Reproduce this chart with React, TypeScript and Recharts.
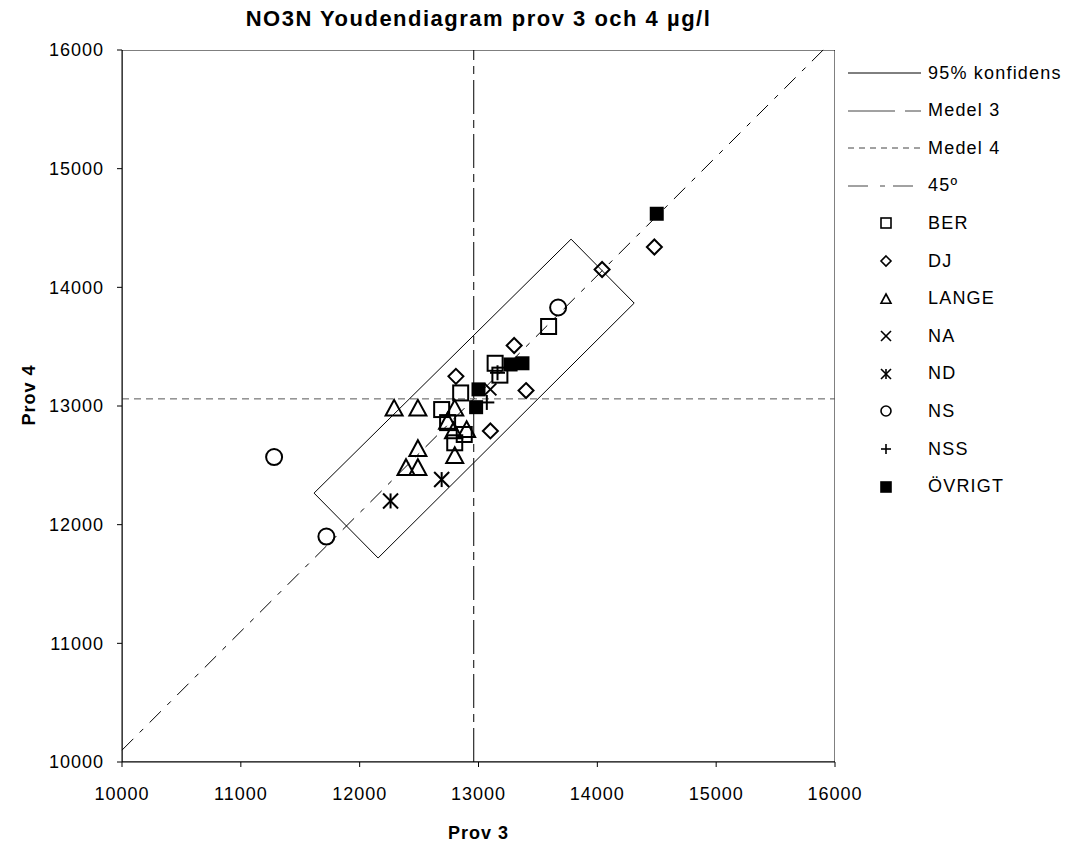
import React from "react";
import {
  ScatterChart,
  Scatter,
  XAxis,
  YAxis,
  ReferenceLine,
  ReferenceArea,
} from "recharts";

// Values (Prov 3 on x, Prov 4 on y), µg/l
const ber = [
  { x: 13590, y: 13670 },
  { x: 13140, y: 13360 },
  { x: 13180, y: 13260 },
  { x: 12850, y: 13110 },
  { x: 12690, y: 12970 },
  { x: 12740, y: 12860 },
  { x: 12800, y: 12690 },
  { x: 12880, y: 12760 },
];
const dj = [
  { x: 14480, y: 14340 },
  { x: 14040, y: 14150 },
  { x: 13300, y: 13510 },
  { x: 12810, y: 13250 },
  { x: 13400, y: 13130 },
  { x: 13100, y: 12790 },
];
const lange = [
  { x: 12290, y: 12980 },
  { x: 12490, y: 12980 },
  { x: 12800, y: 12980 },
  { x: 12740, y: 12870 },
  { x: 12790, y: 12790 },
  { x: 12900, y: 12800 },
  { x: 12490, y: 12640 },
  { x: 12390, y: 12480 },
  { x: 12490, y: 12480 },
  { x: 12800, y: 12580 },
];
const na = [{ x: 13100, y: 13140 }];
const nd = [
  { x: 12260, y: 12200 },
  { x: 12690, y: 12380 },
];
const ns = [
  { x: 11280, y: 12570 },
  { x: 11720, y: 11900 },
  { x: 13670, y: 13830 },
];
const nss = [
  { x: 13070, y: 13030 },
  { x: 13160, y: 13280 },
];
const ovrigt = [
  { x: 14500, y: 14620 },
  { x: 13270, y: 13350 },
  { x: 13370, y: 13360 },
  { x: 13000, y: 13140 },
  { x: 12980, y: 12990 },
];

// 95% confidence rectangle corners (closed)
const konfidens = [
  { x: 11616, y: 12266 },
  { x: 13779, y: 14406 },
  { x: 14310, y: 13867 },
  { x: 12155, y: 11719 },
  { x: 11616, y: 12266 },
];

const medel3 = 12960;
const medel4 = 13060;
const line45 = [
  { x: 10000, y: 10100 },
  { x: 15900, y: 16000 },
];

const ticks = [10000, 11000, 12000, 13000, 14000, 15000, 16000];

const FONT = "'Liberation Sans', Arial, sans-serif";

type MarkerKind = "square" | "diamond" | "triangle" | "x" | "star" | "circle" | "plus" | "filled";

function Marker({ kind, cx, cy, s, sw }: { kind: MarkerKind; cx: number; cy: number; s: number; sw: number }) {
  const h = s / 2;
  switch (kind) {
    case "square":
      return <rect x={cx - h} y={cy - h} width={s} height={s} fill="none" stroke="#000" strokeWidth={sw} />;
    case "filled":
      return <rect x={cx - h} y={cy - h} width={s} height={s} fill="#000" stroke="#000" strokeWidth={sw} />;
    case "diamond":
      return (
        <polygon
          points={`${cx},${cy - h} ${cx + h},${cy} ${cx},${cy + h} ${cx - h},${cy}`}
          fill="none"
          stroke="#000"
          strokeWidth={sw}
        />
      );
    case "triangle":
      return (
        <polygon
          points={`${cx},${cy - h} ${cx + h},${cy + h * 0.85} ${cx - h},${cy + h * 0.85}`}
          fill="none"
          stroke="#000"
          strokeWidth={sw}
        />
      );
    case "circle":
      return <circle cx={cx} cy={cy} r={h} fill="none" stroke="#000" strokeWidth={sw} />;
    case "x":
      return (
        <g stroke="#000" strokeWidth={sw}>
          <line x1={cx - h} y1={cy - h} x2={cx + h} y2={cy + h} />
          <line x1={cx - h} y1={cy + h} x2={cx + h} y2={cy - h} />
        </g>
      );
    case "star":
      return (
        <g stroke="#000" strokeWidth={sw}>
          <line x1={cx - h} y1={cy - h} x2={cx + h} y2={cy + h} />
          <line x1={cx - h} y1={cy + h} x2={cx + h} y2={cy - h} />
          <line x1={cx} y1={cy - h} x2={cx} y2={cy + h} />
        </g>
      );
    case "plus":
      return (
        <g stroke="#000" strokeWidth={sw}>
          <line x1={cx - h} y1={cy} x2={cx + h} y2={cy} />
          <line x1={cx} y1={cy - h} x2={cx} y2={cy + h} />
        </g>
      );
  }
  return null;
}

const shape = (kind: MarkerKind, s: number) => (p: any) =>
  <Marker kind={kind} cx={p.cx} cy={p.cy} s={s} sw={2} />;

const legendRows: { name: string; dash?: string; kind?: MarkerKind }[] = [
  { name: "95% konfidens", dash: "none" },
  { name: "Medel 3", dash: "47 10 15 0" },
  { name: "Medel 4", dash: "6 5" },
  { name: "45º", dash: "20 12 5 8" },
  { name: "BER", kind: "square" },
  { name: "DJ", kind: "diamond" },
  { name: "LANGE", kind: "triangle" },
  { name: "NA", kind: "x" },
  { name: "ND", kind: "star" },
  { name: "NS", kind: "circle" },
  { name: "NSS", kind: "plus" },
  { name: "ÖVRIGT", kind: "filled" },
];

function Legend() {
  return (
    <div style={{ position: "absolute", left: 848, top: 0 }}>
      {legendRows.map((r, i) => (
        <div
          key={r.name}
          style={{
            position: "absolute",
            top: 73 + i * 37.6 - 12,
            left: 0,
            height: 24,
            display: "flex",
            alignItems: "center",
            whiteSpace: "nowrap",
            fontFamily: FONT,
            fontSize: 18,
            letterSpacing: 1.2,
            color: "#000",
          }}
        >
          <svg width={80} height={24}>
            {r.dash ? (
              <line
                x1={0}
                y1={12}
                x2={73}
                y2={12}
                stroke={r.name === "95% konfidens" ? "#000" : "#444"}
                strokeWidth={1}
                strokeDasharray={r.dash === "none" ? undefined : r.dash}
              />
            ) : (
              <Marker kind={r.kind!} cx={38} cy={12} s={10} sw={1.6} />
            )}
          </svg>
          <span>{r.name}</span>
        </div>
      ))}
    </div>
  );
}

const tickStyle = { fill: "#000", fontSize: 18, letterSpacing: 1 };

export default function App() {
  return (
    <div style={{ position: "absolute", left: 0, top: 0, width: 1077, height: 852, background: "#fff" }}>
      <div
        style={{
          position: "absolute",
          top: 6,
          left: 122,
          width: 713,
          textAlign: "center",
          fontFamily: FONT,
          fontWeight: "bold",
          fontSize: 22,
          letterSpacing: 1.5,
        }}
      >
        NO3N Youdendiagram prov 3 och 4 µg/l
      </div>
      <div
        style={{
          position: "absolute",
          top: 823,
          left: 122,
          width: 713,
          textAlign: "center",
          fontFamily: FONT,
          fontWeight: "bold",
          fontSize: 18,
          letterSpacing: 1,
        }}
      >
        Prov 3
      </div>
      <div
        style={{
          position: "absolute",
          top: 395,
          left: 29,
          width: 0,
          height: 0,
          fontFamily: FONT,
          fontWeight: "bold",
          fontSize: 18,
          letterSpacing: 1,
        }}
      >
        <div style={{ position: "absolute", transform: "translate(-50%, -50%) rotate(-90deg)", whiteSpace: "nowrap" }}>
          Prov 4
        </div>
      </div>
      <ScatterChart
        width={1077}
        height={852}
        margin={{ top: 50, right: 242, bottom: 50, left: 42 }}
        style={{ fontFamily: FONT }}
      >
        <XAxis
          type="number"
          dataKey="x"
          domain={[10000, 16000]}
          ticks={ticks}
          allowDataOverflow
          stroke="#000"
          tickLine={{ stroke: "#000" }}
          tickSize={5}
          tick={tickStyle}
          tickMargin={20}
          height={40}
        />
        <YAxis
          type="number"
          dataKey="y"
          domain={[10000, 16000]}
          ticks={ticks}
          allowDataOverflow
          stroke="#000"
          tickLine={{ stroke: "#000" }}
          tickSize={5}
          tick={tickStyle}
          tickMargin={13}
          width={80}
        />
        <ReferenceArea x1={10000} x2={16000} y1={10000} y2={16000} fill="none" stroke="#000" strokeWidth={1} ifOverflow="hidden" />
        <ReferenceLine x={medel3} stroke="#000" strokeWidth={1} strokeDasharray="34 6 8 6" />
        <ReferenceLine y={medel4} stroke="#555" strokeWidth={1} strokeDasharray="7 5" />
        <ReferenceLine segment={line45} stroke="#000" strokeWidth={1} strokeDasharray="16 9 5 9" />
        <Scatter
          data={konfidens}
          line={{ stroke: "#000", strokeWidth: 1 }}
          lineType="joint"
          shape={() => <g />}
          isAnimationActive={false}
        />
        <Scatter data={ber} shape={shape("square", 15)} isAnimationActive={false} />
        <Scatter data={dj} shape={shape("diamond", 15)} isAnimationActive={false} />
        <Scatter data={lange} shape={shape("triangle", 17)} isAnimationActive={false} />
        <Scatter data={na} shape={shape("x", 12)} isAnimationActive={false} />
        <Scatter data={nd} shape={shape("star", 15)} isAnimationActive={false} />
        <Scatter data={ns} shape={shape("circle", 16)} isAnimationActive={false} />
        <Scatter data={nss} shape={shape("plus", 15)} isAnimationActive={false} />
        <Scatter data={ovrigt} shape={shape("filled", 12)} isAnimationActive={false} />
      </ScatterChart>
      <Legend />
    </div>
  );
}
